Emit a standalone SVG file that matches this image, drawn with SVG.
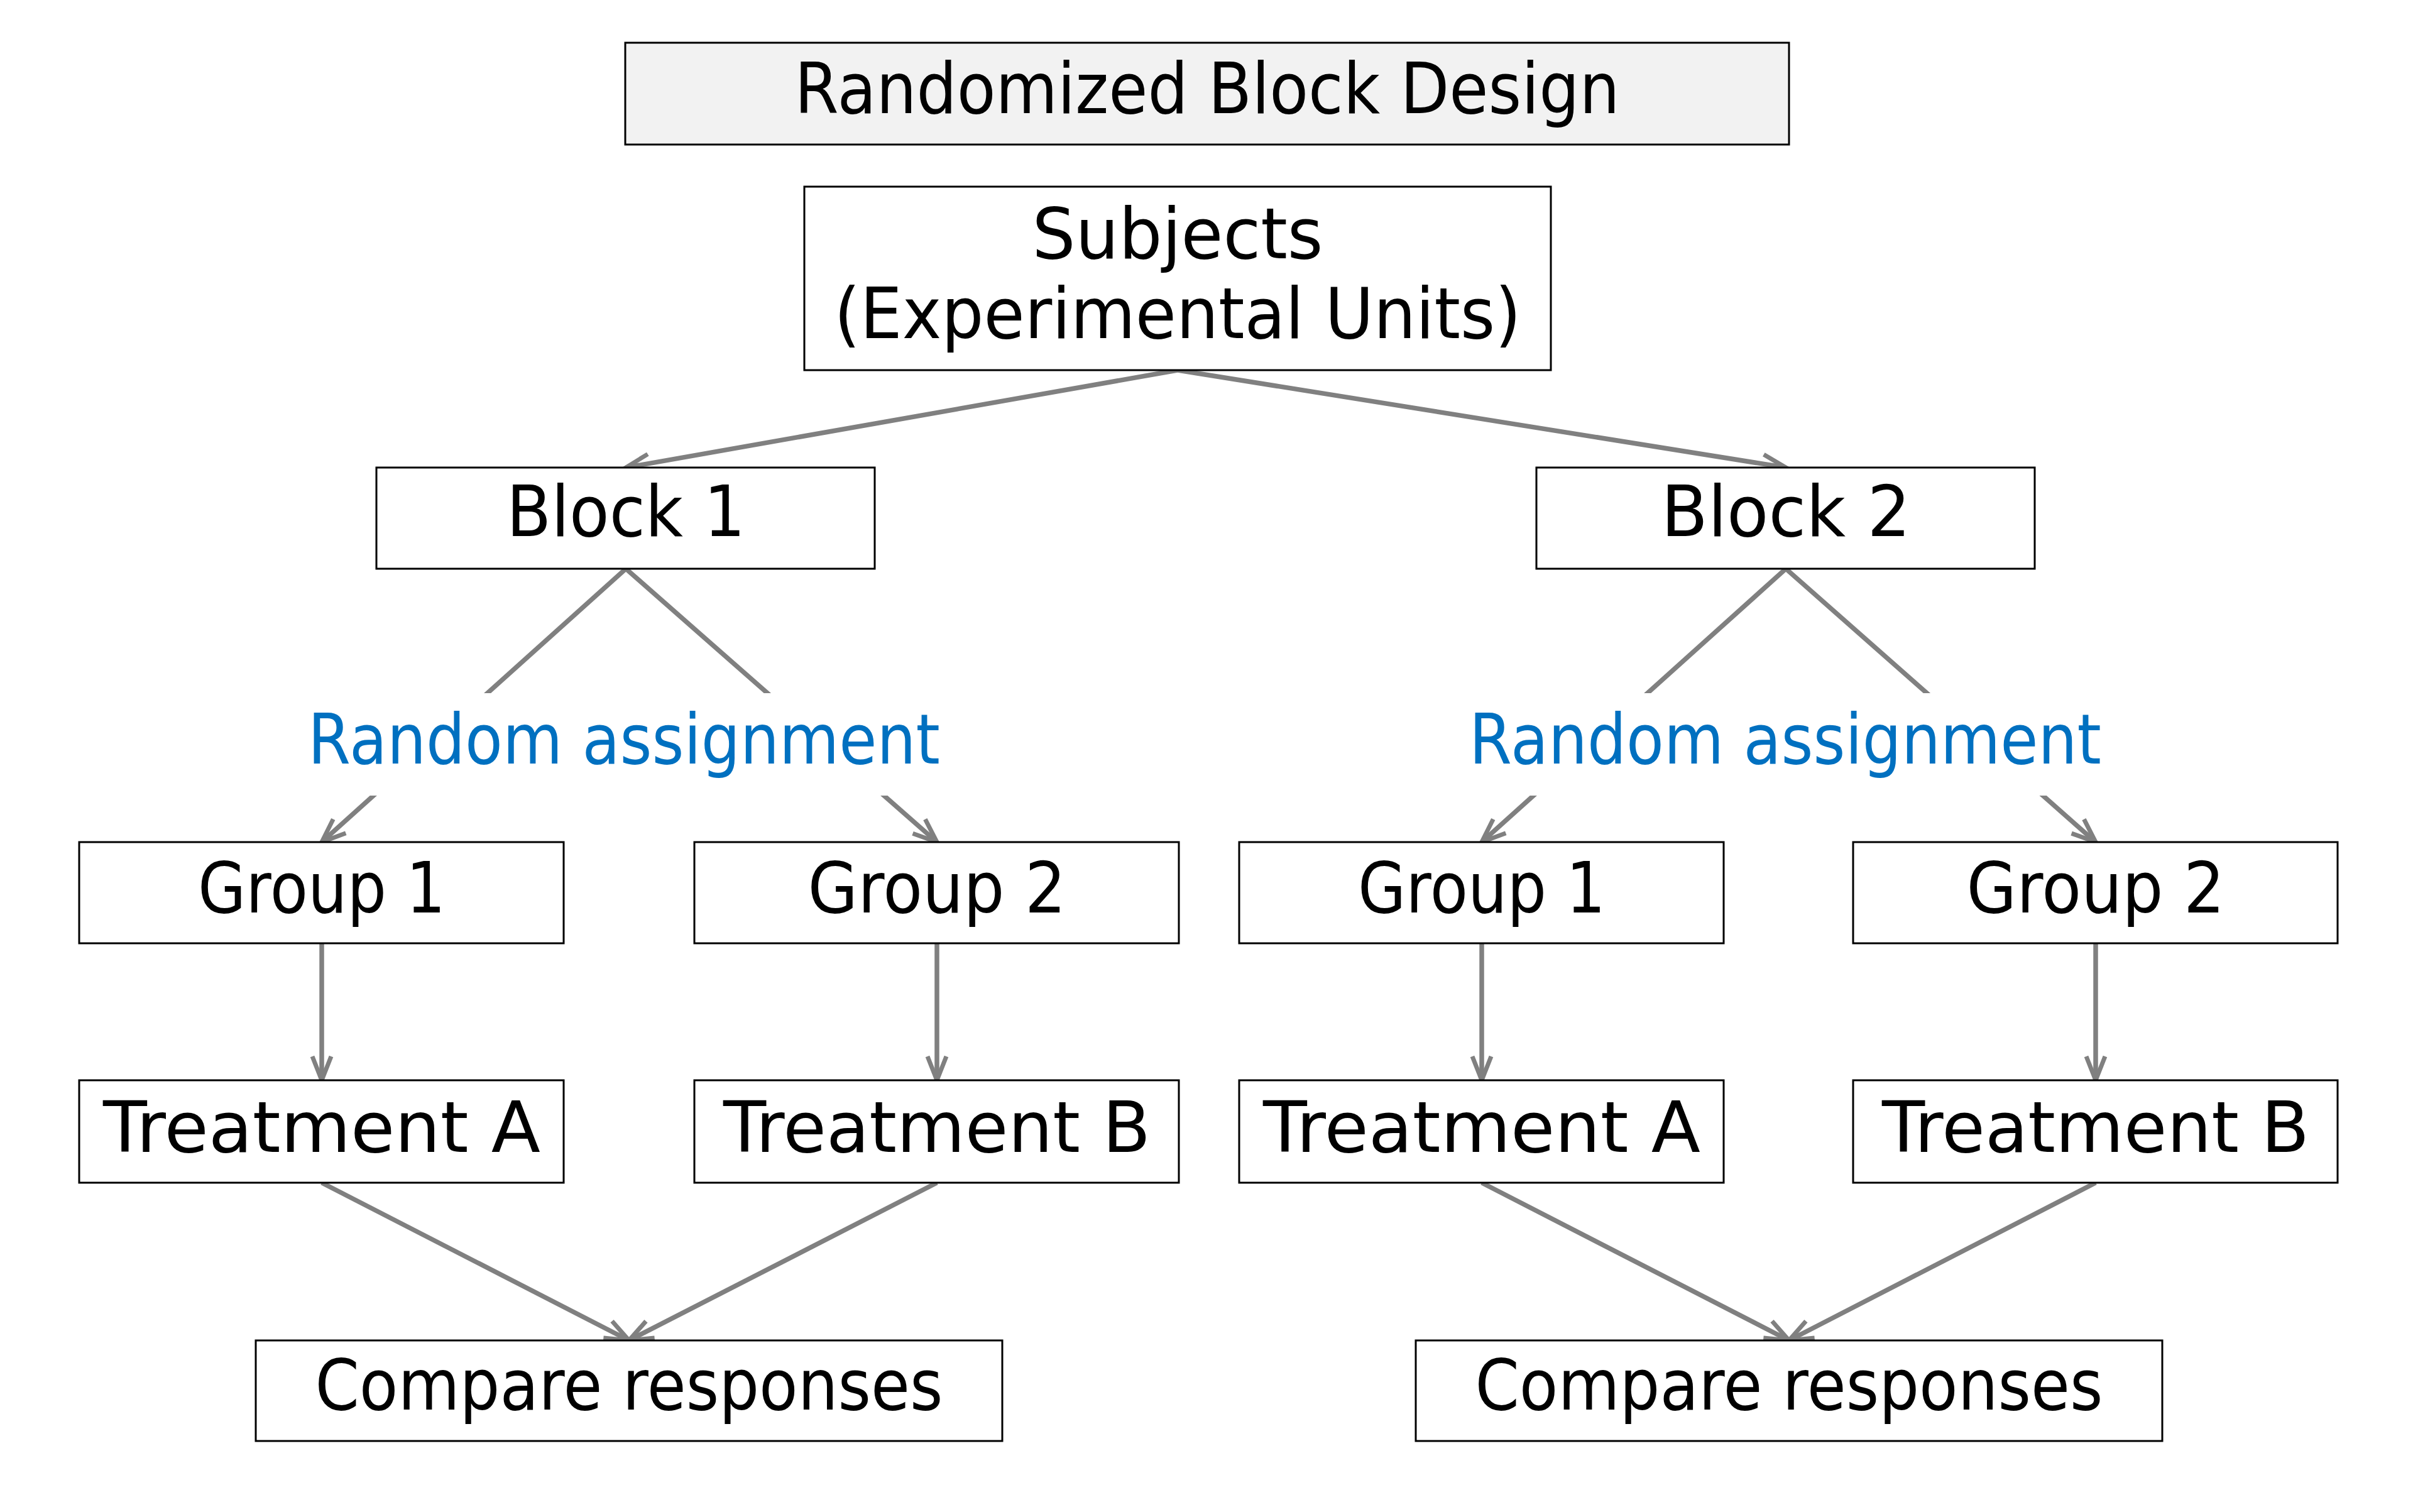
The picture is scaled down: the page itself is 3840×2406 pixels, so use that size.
<svg xmlns="http://www.w3.org/2000/svg" width="3840" height="2406" viewBox="0 0 3840 2406">
<style>
.box{fill:#ffffff;stroke:#000000;stroke-width:3}
.title{fill:#f2f2f2;stroke:#000000;stroke-width:3}
.t{font-family:"DejaVu Sans",sans-serif;font-size:112px;fill:#000000;text-anchor:middle}
.ra{font-family:"DejaVu Sans",sans-serif;font-size:110px;fill:#0070c0;text-anchor:middle}
.c{stroke:#808080;stroke-width:7.5;fill:none}
.gap{fill:#ffffff;stroke:none}
</style>
<defs>
<marker id="ah" markerUnits="userSpaceOnUse" markerWidth="90" markerHeight="90" viewBox="-55 -45 70 90" refX="0" refY="0" orient="auto">
<path d="M -38,-15 L 0,0 L -38,15" fill="none" stroke="#808080" stroke-width="7" stroke-linejoin="miter"/>
</marker>
</defs>
<rect width="3840" height="2406" fill="#ffffff"/>
<g id="connectors">
<line class="c" x1="1874" y1="589" x2="996" y2="744" marker-end="url(#ah)"/>
<line class="c" x1="1874" y1="589" x2="2842" y2="744" marker-end="url(#ah)"/>
<line class="c" x1="996" y1="905" x2="512" y2="1340" marker-end="url(#ah)"/>
<line class="c" x1="996" y1="905" x2="1491" y2="1340" marker-end="url(#ah)"/>
<line class="c" x1="2842" y1="905" x2="2358" y2="1340" marker-end="url(#ah)"/>
<line class="c" x1="2842" y1="905" x2="3335" y2="1340" marker-end="url(#ah)"/>
<line class="c" x1="512" y1="1501" x2="512" y2="1719" marker-end="url(#ah)"/>
<line class="c" x1="1491" y1="1501" x2="1491" y2="1719" marker-end="url(#ah)"/>
<line class="c" x1="2358" y1="1501" x2="2358" y2="1719" marker-end="url(#ah)"/>
<line class="c" x1="3335" y1="1501" x2="3335" y2="1719" marker-end="url(#ah)"/>
<line class="c" x1="512" y1="1882" x2="1001" y2="2133" marker-end="url(#ah)"/>
<line class="c" x1="1491" y1="1882" x2="1001" y2="2133" marker-end="url(#ah)"/>
<line class="c" x1="2358" y1="1882" x2="2847" y2="2133" marker-end="url(#ah)"/>
<line class="c" x1="3335" y1="1882" x2="2847" y2="2133" marker-end="url(#ah)"/>
</g>
<g id="title">
<rect class="title" x="995" y="68" width="1852" height="162"/>
<text class="t" x="1921" y="180" textLength="1313" lengthAdjust="spacingAndGlyphs">Randomized Block Design</text>
</g>
<g id="subjects">
<rect class="box" x="1280" y="297" width="1188" height="292"/>
<text class="t" x="1874" y="411" textLength="463" lengthAdjust="spacingAndGlyphs">Subjects</text>
<text class="t" x="1874" y="538" textLength="1093" lengthAdjust="spacingAndGlyphs">(Experimental Units)</text>
</g>
<g id="block1">
<rect class="box" x="599" y="744" width="793" height="161"/>
<text class="t" x="996" y="853" textLength="380" lengthAdjust="spacingAndGlyphs">Block 1</text>
</g>
<g id="block2">
<rect class="box" x="2445" y="744" width="793" height="161"/>
<text class="t" x="2842" y="853" textLength="397" lengthAdjust="spacingAndGlyphs">Block 2</text>
</g>
<g id="random1">
<rect class="gap" x="480" y="1103" width="1030" height="163"/>
<text class="ra" x="993" y="1215" textLength="1006" lengthAdjust="spacingAndGlyphs">Random assignment</text>
</g>
<g id="random2">
<rect class="gap" x="2326" y="1103" width="1030" height="163"/>
<text class="ra" x="2841" y="1215" textLength="1006" lengthAdjust="spacingAndGlyphs">Random assignment</text>
</g>
<g id="group1-left">
<rect class="box" x="126" y="1340" width="771" height="161"/>
<text class="t" x="512" y="1452" textLength="394" lengthAdjust="spacingAndGlyphs">Group 1</text>
</g>
<g id="group2-left">
<rect class="box" x="1105" y="1340" width="771" height="161"/>
<text class="t" x="1491" y="1452" textLength="411" lengthAdjust="spacingAndGlyphs">Group 2</text>
</g>
<g id="group1-right">
<rect class="box" x="1972" y="1340" width="771" height="161"/>
<text class="t" x="2358" y="1452" textLength="394" lengthAdjust="spacingAndGlyphs">Group 1</text>
</g>
<g id="group2-right">
<rect class="box" x="2949" y="1340" width="771" height="161"/>
<text class="t" x="3335" y="1452" textLength="411" lengthAdjust="spacingAndGlyphs">Group 2</text>
</g>
<g id="treatA-left">
<rect class="box" x="126" y="1719" width="771" height="163"/>
<text class="t" x="512" y="1833" textLength="696" lengthAdjust="spacingAndGlyphs">Treatment A</text>
</g>
<g id="treatB-left">
<rect class="box" x="1105" y="1719" width="771" height="163"/>
<text class="t" x="1491" y="1833" textLength="680" lengthAdjust="spacingAndGlyphs">Treatment B</text>
</g>
<g id="treatA-right">
<rect class="box" x="1972" y="1719" width="771" height="163"/>
<text class="t" x="2358" y="1833" textLength="696" lengthAdjust="spacingAndGlyphs">Treatment A</text>
</g>
<g id="treatB-right">
<rect class="box" x="2949" y="1719" width="771" height="163"/>
<text class="t" x="3335" y="1833" textLength="680" lengthAdjust="spacingAndGlyphs">Treatment B</text>
</g>
<g id="compare-left">
<rect class="box" x="407" y="2133" width="1188" height="160"/>
<text class="t" x="1001" y="2243" textLength="999" lengthAdjust="spacingAndGlyphs">Compare responses</text>
</g>
<g id="compare-right">
<rect class="box" x="2253" y="2133" width="1188" height="160"/>
<text class="t" x="2847" y="2243" textLength="999" lengthAdjust="spacingAndGlyphs">Compare responses</text>
</g>
</svg>
